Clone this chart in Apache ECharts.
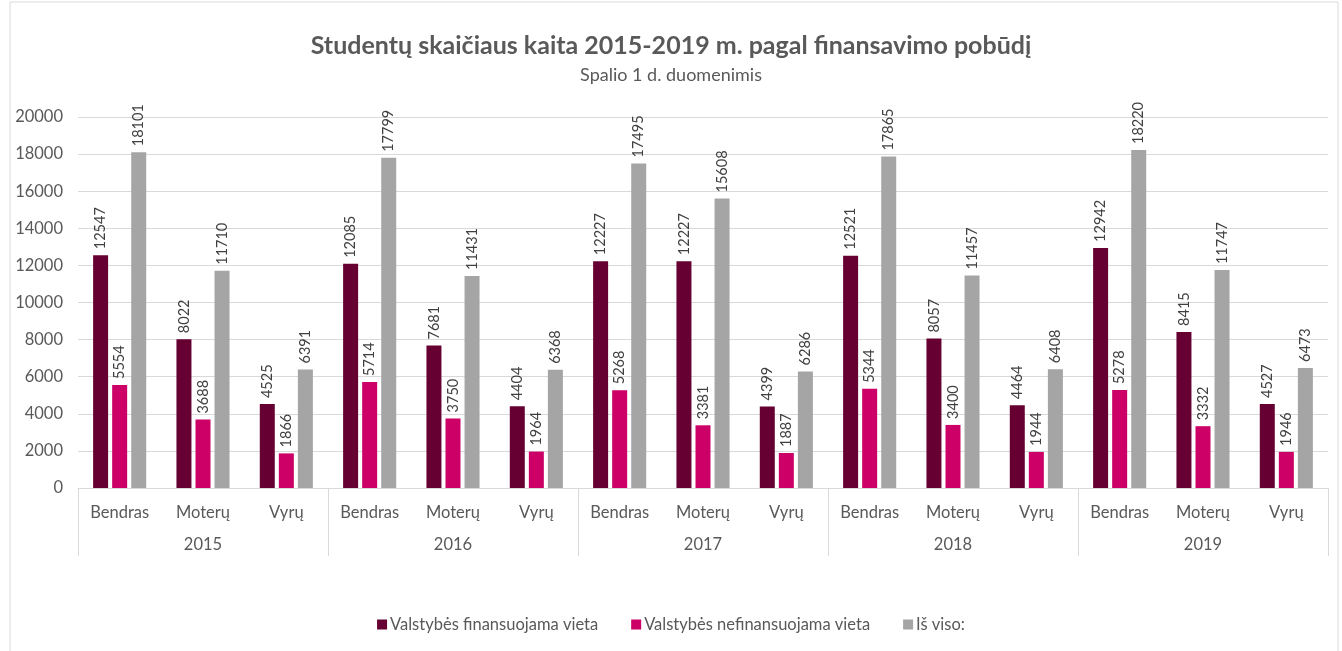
<!DOCTYPE html>
<html>
<head>
<meta charset="utf-8">
<script src="https://cdn.jsdelivr.net/npm/echarts@6/dist/echarts.min.js"></script>
<style>
  html, body { margin: 0; padding: 0; background: #fff; }
  #chart { width: 1342px; height: 651px; }
</style>
</head>
<body>
<div id="chart"></div>
<script>
var categories = ["Bendras", "Moterų", "Vyrų", "Bendras", "Moterų", "Vyrų", "Bendras", "Moterų", "Vyrų",
  "Bendras", "Moterų", "Vyrų", "Bendras", "Moterų", "Vyrų"];
var years = ["2015", "2016", "2017", "2018", "2019"];
var finansuojama = [12547, 8022, 4525, 12085, 7681, 4404, 12227, 12227, 4399, 12521, 8057, 4464, 12942, 8415, 4527];
var nefinansuojama = [5554, 3688, 1866, 5714, 3750, 1964, 5268, 3381, 1887, 5344, 3400, 1944, 5278, 3332, 1946];
var isViso = [18101, 11710, 6391, 17799, 11431, 6368, 17495, 15608, 6286, 17865, 11457, 6408, 18220, 11747, 6473];

var font = "Lato, 'Open Sans', sans-serif";
const chart = echarts.init(document.getElementById("chart"));

function bar(name, data, color) {
  return {
    name: name,
    type: "bar",
    data: data,
    barWidth: 15,
    barGap: "27%",
    itemStyle: { color: color },
    label: {
      show: true,
      position: "top",
      rotate: 90,
      align: "left",
      verticalAlign: "middle",
      distance: 6,
      color: "#404040",
      fontSize: 14.5,
      fontFamily: font,
    },
  };
}

var option = {
  animation: false,
  textStyle: { fontFamily: font },
  title: [
    {
      text: "Studentų skaičiaus kaita 2015-2019 m. pagal finansavimo pobūdį",
      left: "center",
      top: 28,
      textStyle: { fontSize: 25, fontWeight: "bold", color: "#595959", fontFamily: font },
    },
    {
      text: "Spalio 1 d. duomenimis",
      left: "center",
      top: 61,
      textStyle: { fontSize: 18, fontWeight: "normal", color: "#595959", fontFamily: font },
    },
  ],
  graphic: [
    {
      type: "rect",
      shape: { x: 10, y: 2, width: 1328, height: 660 },
      style: { fill: "none", stroke: "#d9d9d9", lineWidth: 1 },
      silent: true,
    },
  ],
  legend: {
    bottom: 13,
    left: "center",
    icon: "rect",
    itemWidth: 10,
    itemHeight: 10,
    itemGap: 33,
    textStyle: { color: "#595959", fontSize: 16.5, fontFamily: font, padding: [0, 0, 0, -2] },
    data: ["Valstybės finansuojama vieta", "Valstybės nefinansuojama vieta", "Iš viso:"],
  },
  color: ["#660033", "#cc0066", "#a5a5a5"],
  grid: { left: 78, right: 14, top: 117, bottom: 163 },
  xAxis: [
    {
      type: "category",
      data: categories,
      axisLine: { lineStyle: { color: "#d9d9d9" } },
      axisTick: { show: false },
      axisLabel: { color: "#595959", fontSize: 16.5, margin: 16, fontFamily: font },
    },
    {
      type: "category",
      data: years,
      position: "bottom",
      offset: 68,
      axisLine: { show: false },
      axisTick: { show: true, inside: true, length: 68, lineStyle: { color: "#d9d9d9" } },
      axisLabel: { inside: true, margin: 3, color: "#595959", fontSize: 16.5, fontFamily: font },
    },
  ],
  yAxis: {
    type: "value",
    min: 0,
    max: 20000,
    interval: 2000,
    axisLine: { show: false },
    axisTick: { show: false },
    splitLine: { lineStyle: { color: "#d9d9d9" } },
    axisLabel: {
      color: "#595959",
      fontSize: 16.5,
      margin: 15,
      fontFamily: font,
      formatter: function (v) { return String(v); },
    },
  },
  series: [
    bar("Valstybės finansuojama vieta", finansuojama, "#660033"),
    bar("Valstybės nefinansuojama vieta", nefinansuojama, "#cc0066"),
    bar("Iš viso:", isViso, "#a5a5a5"),
  ],
};
chart.setOption(option);
</script>
</body>
</html>
